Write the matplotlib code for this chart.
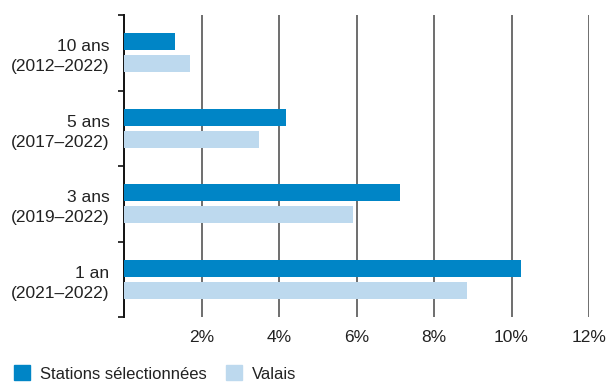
import numpy as np
import matplotlib.pyplot as plt
from matplotlib.patches import Patch

plt.rcParams['font.family'] = ['Liberation Sans', 'DejaVu Sans']

categories = ['10 ans\n(2012–2022)', '5 ans\n(2017–2022)',
              '3 ans\n(2019–2022)', '1 an\n(2021–2022)']
stations = [1.32, 4.18, 7.12, 10.25]
valais = [1.70, 3.48, 5.91, 8.85]
xticks = [2, 4, 6, 8, 10, 12]
series_names = ['Stations sélectionnées', 'Valais']

dark = '#0085C6'
light = '#BDD9EE'

fig = plt.figure(figsize=(6.15, 3.85), dpi=100)
ax = fig.add_axes([124/615, 1 - 317/385, (589 - 124)/615, (317 - 15)/385])

y = np.arange(len(categories))
h = 0.225
off = 0.145
ax.barh(y - off, stations, height=h, color=dark, zorder=3)
ax.barh(y + off, valais, height=h, color=light, zorder=3)

ax.set_xlim(0, 12)
ax.set_ylim(len(categories) - 0.5, -0.5)

for x in xticks:
    ax.axvline(x, color='#555555', lw=1.2, zorder=1)

ax.set_xticks(xticks)
ax.set_xticklabels([f'{x}%' for x in xticks], fontsize=12.5, color='#222222')
ax.tick_params(axis='x', length=0, pad=9)

ax.set_yticks(y)
ax.set_yticklabels(categories, fontsize=12.5, color='#222222', ha='right',
                   multialignment='right', linespacing=1.4)
ax.tick_params(axis='y', which='major', length=0, pad=10.5)
ax.set_yticks(np.arange(-0.5, len(categories)), minor=True)
ax.tick_params(axis='y', which='minor', length=4, width=1.2, color='#111111')

for s in ['top', 'right', 'bottom']:
    ax.spines[s].set_visible(False)
ax.spines['left'].set_linewidth(1.4)
ax.spines['left'].set_color('#111111')

handles = [Patch(color=dark), Patch(color=light)]
fig.legend(handles, series_names, loc='lower left', bbox_to_anchor=(-0.002, -0.03),
           ncol=2, frameon=False, fontsize=12, handlelength=1.0, handleheight=1.0,
           handletextpad=0.6, columnspacing=1.1, labelcolor='#222222')

fig.savefig('out.png', dpi=100)
